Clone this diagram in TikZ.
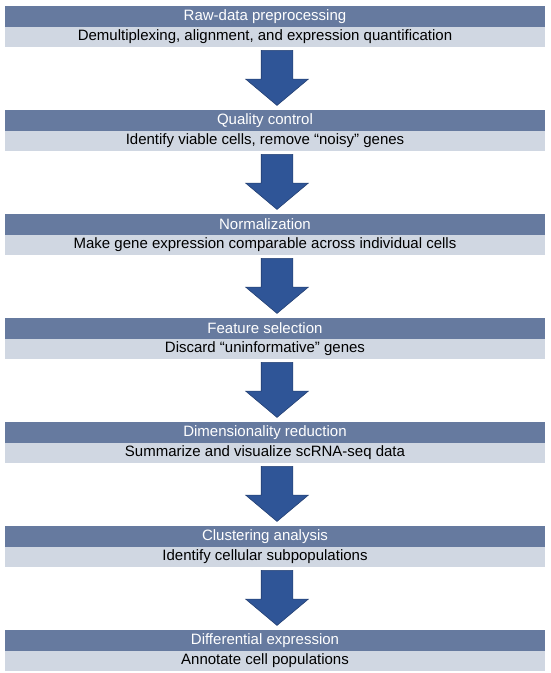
\documentclass[tikz,border=0pt]{standalone}
\usepackage{fontspec}
\setmainfont{Liberation Sans}
\usepackage{tikz}
\usetikzlibrary{positioning, shapes.arrows, calc}
\definecolor{headblue}{HTML}{667A9F}
\definecolor{sublight}{HTML}{D0D7E2}
\definecolor{arrowblue}{HTML}{2F5597}
\definecolor{arrowedge}{HTML}{233F72}

\begin{document}
\begin{tikzpicture}[x=1pt, y=1pt, node distance=62.7pt,
  head/.style={rectangle, fill=headblue, text=white, minimum width=540pt, minimum height=20.5pt, inner sep=0pt, font=\fontsize{15}{17}\selectfont, execute at begin node=\hspace*{-20pt}},
  sub/.style={rectangle, fill=sublight, minimum width=540pt, minimum height=20pt, inner sep=0pt, font=\fontsize{15}{17}\selectfont, execute at begin node=\hspace*{-20pt}},
  flow/.style={single arrow, draw=arrowedge, fill=arrowblue, line width=0.6pt, shape border rotate=270, minimum height=55pt, minimum width=62pt, single arrow head extend=15.5pt, single arrow tip angle=100, inner sep=15.5pt, anchor=tail}]
\useasboundingbox (0,0) rectangle (550,-673);

\node[head] (raw) at (275,-16.25) {Raw-data preprocessing};
\node[sub, below=0pt of raw] (rawsub) {Demultiplexing, alignment, and expression quantification};

\node[head, below=of rawsub] (qc) {Quality control};
\node[sub, below=0pt of qc] (qcsub) {Identify viable cells, remove “noisy” genes};

\node[head, below=of qcsub] (norm) {Normalization};
\node[sub, below=0pt of norm] (normsub) {Make gene expression comparable across individual cells};

\node[head, below=of normsub] (feat) {Feature selection};
\node[sub, below=0pt of feat] (featsub) {Discard “uninformative” genes};

\node[head, below=of featsub] (dimred) {Dimensionality reduction};
\node[sub, below=0pt of dimred] (dimredsub) {Summarize and visualize scRNA-seq data};

\node[head, below=of dimredsub] (clust) {Clustering analysis};
\node[sub, below=0pt of clust] (clustsub) {Identify cellular subpopulations};

\node[head, below=of clustsub] (diffex) {Differential expression};
\node[sub, below=0pt of diffex] (diffexsub) {Annotate cell populations};

% block arrows between the steps
\node[flow] (arr1) at ([xshift=2pt, yshift=-3pt]rawsub.south) {};
\node[flow] (arr2) at ([xshift=2pt, yshift=-3pt]qcsub.south) {};
\node[flow] (arr3) at ([xshift=2pt, yshift=-3pt]normsub.south) {};
\node[flow] (arr4) at ([xshift=2pt, yshift=-3pt]featsub.south) {};
\node[flow] (arr5) at ([xshift=2pt, yshift=-3pt]dimredsub.south) {};
\node[flow] (arr6) at ([xshift=2pt, yshift=-3pt]clustsub.south) {};
\end{tikzpicture}
\end{document}
